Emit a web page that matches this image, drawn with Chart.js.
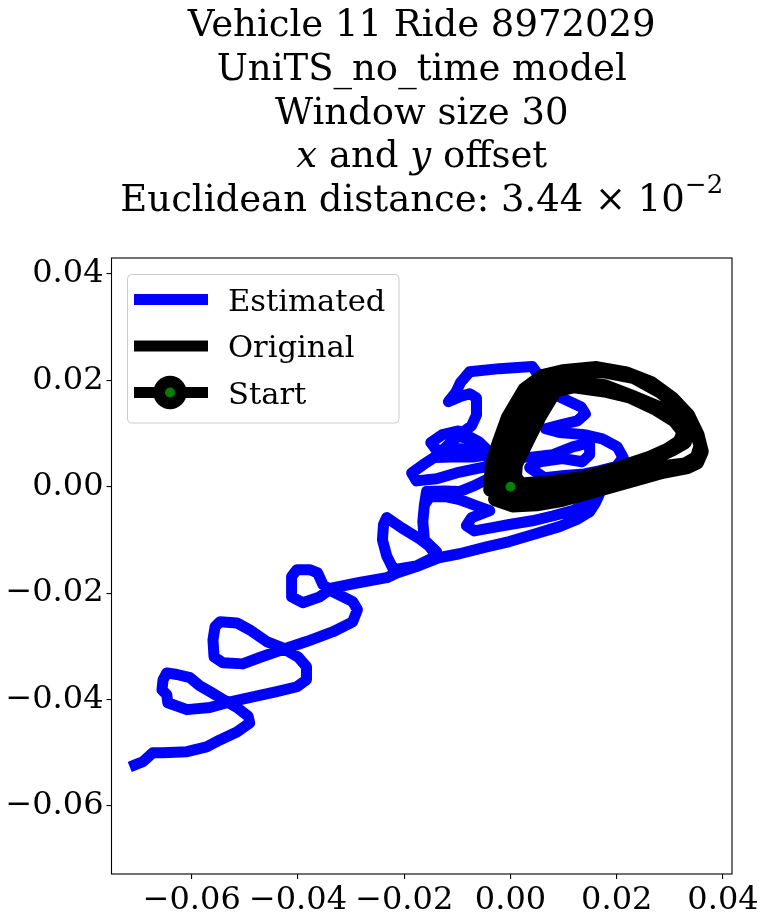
<!DOCTYPE html>
<html>
<head>
<meta charset="utf-8">
<script src="https://cdn.jsdelivr.net/npm/chart.js@4.4.1/dist/chart.umd.min.js"></script>
<style>
  html, body { margin: 0; padding: 0; background: #fff; }
  #wrap { width: 764px; height: 921px; }
</style>
</head>
<body>
<div id="wrap"><canvas id="traj" width="764" height="921"></canvas></div>
<script>
// estimated trajectory (x / y offsets)
const estX = [
  -0.0707,-0.0692,-0.0673,-0.0654,-0.0609,-0.0572,-0.0547,-0.0515,-0.0491,-0.0494,
  -0.0515,-0.0541,-0.0566,-0.0585,-0.0603,-0.0628,-0.0647,-0.0654,-0.0656,-0.0647,
  -0.0645,-0.0609,-0.0566,-0.0534,-0.0485,-0.0440,-0.0402,-0.0384,-0.0384,-0.0400,
  -0.0429,-0.0459,-0.0491,-0.0515,-0.0547,-0.0556,-0.0560,-0.0558,-0.0541,-0.0504,
  -0.0472,-0.0429,-0.0384,-0.0335,-0.0297,-0.0288,-0.0297,-0.0335,-0.0353,-0.0363,
  -0.0378,-0.0402,-0.0412,-0.0412,-0.0391,-0.0359,-0.0335,-0.0284,-0.0233,-0.0214,
  -0.0177,-0.0133,-0.0096,-0.0045,-0.0002,0.0049,0.0092,0.0124,0.0149,0.0160,
  0.0167,0.0143,0.0117,0.0079,0.0041,-0.0002,-0.0034,-0.0068,-0.0083,-0.0073,
  -0.0039,-0.0064,-0.0096,-0.0120,-0.0152,
  -0.0162,-0.0165,-0.0162,-0.0139,
  -0.0171,-0.0205,-0.0233,-0.0239,
  -0.0241,-0.0233,-0.0220,
  -0.0177,-0.0139,-0.0162,-0.0165,-0.0162,-0.0158,
  -0.0124,-0.0096,-0.0068,-0.0030,-0.0039,-0.0064,-0.0102,-0.0139,-0.0177,-0.0186,
  -0.0165,-0.0139,-0.0115,-0.0090,-0.0073,-0.0064,-0.0064,-0.0077,-0.0096,-0.0117,
  -0.0103,-0.0094,-0.0077,-0.0021,0.0041,0.0070,0.0092,0.0133,0.0141,0.0126,
  0.0096,0.0066,0.0092,0.0139,0.0173,0.0201,0.0212,0.0199,0.0167,0.0139,
  0.0102,0.0064,
  0.0036,0.0055,0.0098,0.0135,0.0149,0.0149,0.0117,0.0079,0.0036,-0.0011,
  -0.0045,-0.0071,-0.0109,-0.0143,-0.0109,-0.0109,-0.0085,-0.0049,-0.0021,
  -0.0060,-0.0098,-0.0128,-0.0150,-0.0139,-0.0105,-0.0060,-0.0015,0
];
const estY = [
  -0.0523,-0.0517,-0.0500,-0.0500,-0.0498,-0.0489,-0.0476,-0.0461,-0.0444,-0.0431,
  -0.0415,-0.0400,-0.0385,-0.0374,-0.0359,-0.0353,-0.0350,-0.0363,-0.0382,-0.0391,
  -0.0406,-0.0419,-0.0415,-0.0406,-0.0395,-0.0385,-0.0376,-0.0363,-0.0338,-0.0320,
  -0.0303,-0.0291,-0.0269,-0.0256,-0.0254,-0.0263,-0.0288,-0.0320,-0.0331,-0.0333,
  -0.0321,-0.0306,-0.0291,-0.0273,-0.0254,-0.0231,-0.0216,-0.0197,-0.0184,-0.0162,
  -0.0156,-0.0156,-0.0169,-0.0207,-0.0218,-0.0207,-0.0190,-0.0180,-0.0171,-0.0162,
  -0.0150,-0.0133,-0.0126,-0.0113,-0.0103,-0.0088,-0.0075,-0.0062,-0.0047,-0.0030,
  -0.0015,-0.0032,-0.0045,-0.0055,-0.0064,-0.0071,-0.0077,-0.0083,-0.0073,-0.0058,
  -0.0045,-0.0036,-0.0024,-0.0019,-0.0019,
  -0.0034,-0.0066,-0.0100,-0.0122,
  -0.0098,-0.0077,-0.0058,-0.0071,
  -0.0100,-0.0130,-0.0156,
  -0.0149,-0.0130,-0.0100,-0.0066,-0.0034,-0.0009,
  -0.0008,-0.0009,0.0002,0.0021,0.0039,0.0034,0.0026,0.0015,0.0011,0.0026,
  0.0041,0.0058,0.0081,0.0102,0.0115,0.0135,0.0167,0.0175,0.0169,0.0160,
  0.0177,0.0196,0.0216,0.0222,0.0226,0.0186,0.0169,0.0150,0.0137,0.0124,
  0.0117,0.0109,0.0102,0.0098,0.0090,0.0075,0.0055,0.0038,0.0030,0.0024,
  0.0021,0.0017,
  0.0036,0.0047,0.0053,0.0047,0.0060,0.0083,0.0075,0.0060,0.0055,0.0060,
  0.0060,0.0056,0.0056,0.0055,0.0066,0.0096,0.0092,0.0073,0.0047,
  0.0085,0.0105,0.0098,0.0083,0.0068,0.0072,0.0070,0.0030,0
];

// original trajectory, several laps of the same loop
const origX = [
  0,-0.0039,-0.0036,-0.0023,-0.0006,0.0026,0.0060,0.0098,0.0162,0.0218,
  0.0265,0.0305,0.0335,0.0353,0.0361,0.0352,0.0333,0.0282,0.0237,0.0190,
  0.0143,0.0096,0.0049,0.0004,-0.0030,
  -0.0021,-0.0013,-0.0002,0.0017,0.0045,0.0077,0.0120,0.0177,0.0233,0.0280,
  0.0318,0.0346,0.0357,0.0350,0.0329,0.0290,0.0261,0.0205,0.0149,0.0092,
  0.0045,0.0002,-0.0021,
  -0.0006,0.0008,0.0024,0.0049,0.0073,0.0120,0.0177,0.0227,0.0280,0.0314,
  0.0333,0.0329,0.0306,0.0261,0.0205,0.0149,0.0092,0.0045,0.0008,
  0.0011,0.0034,0.0056,0.0085,0.0120,0.0177,0.0224,0.0271,0.0308,0.0325,
  0.0318,0.0295,0.0261,0.0192,0.0130,0.0068,0.0030,0
];
const origY = [
  0,-0.0006,0.0041,0.0083,0.0130,0.0184,0.0209,0.0218,0.0224,0.0214,
  0.0196,0.0167,0.0135,0.0098,0.0066,0.0045,0.0036,0.0026,0.0013,0.0000,
  -0.0013,-0.0026,-0.0034,-0.0036,-0.0024,
  0.0013,0.0051,0.0094,0.0141,0.0179,0.0201,0.0212,0.0216,0.0205,0.0179,
  0.0149,0.0111,0.0077,0.0055,0.0043,0.0038,0.0034,0.0023,0.0008,-0.0006,
  -0.0017,-0.0021,-0.0013,
  0.0028,0.0066,0.0111,0.0154,0.0192,0.0199,0.0190,0.0171,0.0149,0.0126,
  0.0103,0.0083,0.0070,0.0049,0.0036,0.0021,0.0008,-0.0002,-0.0002,
  0.0041,0.0088,0.0132,0.0180,0.0188,0.0180,0.0169,0.0147,0.0124,0.0103,
  0.0085,0.0070,0.0055,0.0032,0.0017,0.0008,0.0006,0
];

const startX = [0];
const startY = [0];

const xTicks = [-0.06, -0.04, -0.02, 0.00, 0.02, 0.04];
const yTicks = [-0.06, -0.04, -0.02, 0.00, 0.02, 0.04];
const seriesNames = ['Estimated', 'Original', 'Start'];

// title lines as runs: n = normal, i = italic (math), s = superscript
const titleLines = [
  [['Vehicle 11 Ride 8972029', 'n']],
  [['UniTS_no_time model', 'n']],
  [['Window size 30', 'n']],
  [['x', 'i'], [' and ', 'n'], ['y', 'i'], [' offset', 'n']],
  [['Euclidean distance: 3.44 \u00d7 10', 'n'], ['\u22122', 's']]
];

const FONT = '"DejaVu Serif", "Liberation Serif", serif';
const toPts = (xs, ys) => xs.map((x, i) => ({ x: x, y: ys[i] }));
const fmt = v => (v < -1e-9 ? '\u2212' : '') + Math.abs(v).toFixed(2);

const titleFonts = {
  n: '37px ' + FONT,
  i: 'italic 37px ' + FONT,
  s: '26px ' + FONT
};

function drawTitle(chart) {
  const ctx = chart.ctx;
  const a = chart.chartArea;
  const cx = (a.left + a.right) / 2;
  const baselines = [36, 80, 124, 167, 211];
  ctx.save();
  ctx.fillStyle = '#000';
  ctx.textBaseline = 'alphabetic';
  ctx.textAlign = 'left';
  titleLines.forEach((runs, li) => {
    let w = 0;
    runs.forEach(r => { ctx.font = titleFonts[r[1]]; w += ctx.measureText(r[0]).width; });
    let x = cx - w / 2;
    runs.forEach(r => {
      ctx.font = titleFonts[r[1]];
      const dy = r[1] === 's' ? -18 : 0;
      ctx.fillText(r[0], x, baselines[li] + dy);
      x += ctx.measureText(r[0]).width;
    });
  });
  ctx.restore();
}

function drawLegend(chart) {
  const ctx = chart.ctx;
  const ds = chart.data.datasets;
  const bx = 127.5, by = 274.5, bw = 271.5, bh = 148.5, r = 4;
  ctx.save();
  ctx.beginPath();
  ctx.moveTo(bx + r, by);
  ctx.arcTo(bx + bw, by, bx + bw, by + bh, r);
  ctx.arcTo(bx + bw, by + bh, bx, by + bh, r);
  ctx.arcTo(bx, by + bh, bx, by, r);
  ctx.arcTo(bx, by, bx + bw, by, r);
  ctx.closePath();
  ctx.fillStyle = 'rgba(255,255,255,0.8)';
  ctx.fill();
  ctx.strokeStyle = '#cccccc';
  ctx.lineWidth = 1;
  ctx.stroke();

  const rows = [299.5, 346, 392.5];
  const order = [2, 1, 0]; // dataset index for each legend row
  rows.forEach((y, k) => {
    const d = ds[order[k]];
    const isStart = order[k] === 0;
    ctx.beginPath();
    ctx.moveTo(134, y);
    ctx.lineTo(208, y);
    ctx.lineWidth = 11;
    ctx.lineCap = 'butt';
    ctx.strokeStyle = isStart ? d.pointBorderColor : d.borderColor;
    ctx.stroke();
    if (isStart) {
      ctx.beginPath();
      ctx.arc(170, y, 16.7, 0, Math.PI * 2);
      ctx.fillStyle = d.pointBorderColor;
      ctx.fill();
      ctx.beginPath();
      ctx.arc(170, y, 5, 0, Math.PI * 2);
      ctx.fillStyle = d.pointBackgroundColor;
      ctx.fill();
    }
    ctx.fillStyle = '#000';
    ctx.font = '30.6px ' + FONT;
    ctx.textBaseline = 'alphabetic';
    ctx.textAlign = 'left';
    ctx.fillText(d.label, 228, y + 11);
  });
  ctx.restore();
}

const frameAndText = {
  id: 'frameAndText',
  afterDatasetsDraw(chart) {
    const ctx = chart.ctx;
    const a = chart.chartArea;
    ctx.save();
    ctx.strokeStyle = '#000';
    ctx.lineWidth = 1.1;
    ctx.strokeRect(a.left, a.top, a.right - a.left, a.bottom - a.top);
    ctx.restore();
  },
  afterDraw(chart) {
    drawTitle(chart);
    drawLegend(chart);
  }
};

const axisCommon = {
  type: 'linear',
  border: { display: false },
  grid: {
    drawOnChartArea: false,
    drawTicks: true,
    tickLength: 5,
    color: '#000',
    lineWidth: 1.1
  }
};

new Chart(document.getElementById('traj'), {
  type: 'scatter',
  data: {
    datasets: [
      {
        label: seriesNames[2],
        data: toPts(startX, startY),
        showLine: false,
        pointRadius: 10.85,
        pointBorderWidth: 11.7,
        pointBackgroundColor: '#008000',
        pointBorderColor: '#000000',
        order: 1
      },
      {
        label: seriesNames[1],
        data: toPts(origX, origY),
        showLine: true,
        borderColor: '#000000',
        borderWidth: 13,
        borderJoinStyle: 'round',
        borderCapStyle: 'round',
        pointRadius: 0,
        tension: 0,
        order: 2
      },
      {
        label: seriesNames[0],
        data: toPts(estX, estY),
        showLine: true,
        borderColor: '#0000ff',
        borderWidth: 11,
        borderJoinStyle: 'round',
        borderCapStyle: 'square',
        pointRadius: 0,
        tension: 0,
        order: 3
      }
    ]
  },
  options: {
    responsive: false,
    animation: false,
    devicePixelRatio: 1,
    layout: { padding: { top: 258, right: 32, left: 0, bottom: 0 } },
    plugins: {
      legend: { display: false },
      title: { display: false },
      tooltip: { enabled: false }
    },
    scales: {
      x: Object.assign({}, axisCommon, {
        min: -0.0751,
        max: 0.0417,
        afterBuildTicks: s => { s.ticks = xTicks.map(v => ({ value: v })); },
        afterFit: s => { s.height = 47; },
        ticks: {
          autoSkip: false,
          maxRotation: 0,
          minRotation: 0,
          padding: 2,
          color: '#000',
          font: { family: FONT, size: 32 },
          callback: v => fmt(v)
        }
      }),
      y: Object.assign({}, axisCommon, {
        min: -0.0728,
        max: 0.0430,
        afterBuildTicks: s => { s.ticks = yTicks.map(v => ({ value: v })); },
        afterFit: s => { s.width = 111.5; },
        ticks: {
          autoSkip: false,
          padding: 3,
          color: '#000',
          font: { family: FONT, size: 32 },
          callback: v => fmt(v)
        }
      })
    }
  },
  plugins: [frameAndText]
});
</script>
</body>
</html>
